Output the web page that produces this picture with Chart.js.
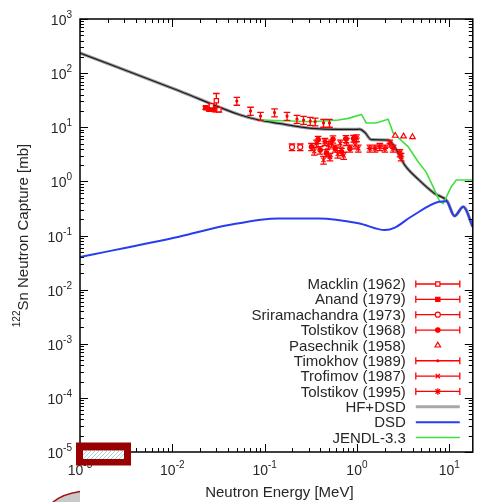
<!DOCTYPE html>
<html>
<head>
<meta charset="utf-8">
<script src="https://cdn.jsdelivr.net/npm/chart.js@4.4.1/dist/chart.umd.min.js"></script>
<style>
  html, body { margin: 0; padding: 0; background: #fff; }
  #wrap { width: 478px; height: 502px; }
</style>
</head>
<body>
<div id="wrap"><canvas id="plot"></canvas></div>
<script>
// calculated curves (energy in MeV, cross section in mb)
const hfEnergy = [0.001, 0.0118, 0.0526, 0.0866, 0.142, 0.325, 0.63, 0.95, 1.06, 1.22, 1.43, 2.2, 2.55, 3.3, 4.6, 6.9, 9.5, 11.4, 14.2, 18];
const hfXs     = [235, 47.3, 17.2, 13.6, 11.8, 9.55, 9.1, 9.1, 9.2, 8.0, 5.9, 5.8, 4.4, 2.0, 1.1, 0.6, 0.43, 0.23, 0.34, 0.145];

const dsdEnergy = [0.001, 0.0118, 0.041, 0.142, 0.384, 1.04, 2.01, 2.58, 3.86, 7.74, 9.3, 11.4, 14.2, 18];
const dsdXs     = [0.040, 0.095, 0.156, 0.207, 0.207, 0.169, 0.126, 0.14, 0.222, 0.42, 0.43, 0.229, 0.339, 0.145];

const jendlEnergy = [0.093, 0.32, 0.63, 0.81, 1.12, 1.26, 1.62, 2.18, 2.47, 3.58, 4.6, 5.6, 6.8, 7.9, 8.6, 10.5, 11.9, 18];
const jendlXs     = [13.6, 12.6, 13.6, 14.6, 17.3, 12.0, 12.0, 14.0, 7.8, 4.4, 2.3, 1.5, 0.75, 0.42, 0.39, 0.79, 1.06, 1.06];

// measurements
const macklinE   = [0.0265, 0.030, 0.032];
const macklinXs  = [25, 31, 21];
const macklinErr = [2, 11, 2];

const anandE   = [0.023, 0.025, 0.027, 0.029];
const anandXs  = [23, 21.5, 22, 21];
const anandErr = [1.5, 1.5, 1.5, 1.5];

const sriE   = [0.198, 0.243];
const sriXs  = [4.3, 4.3];
const sriErr = [0.6, 0.6];

const tol68E   = [0.322, 0.38, 0.40, 0.468, 0.55, 0.58, 0.68, 0.76, 0.84, 0.92];
const tol68Xs  = [4.36, 5.9, 3.79, 3.34, 6.0, 4.07, 3.53, 6.1, 4.07, 6.2];
const tol68Err = [0.65, 0.9, 0.6, 0.5, 0.9, 0.6, 0.55, 0.9, 0.6, 0.9];

const pasE  = [2.6, 3.2, 4.0];
const pasXs = [7.0, 6.8, 6.6];

const timE   = [0.050, 0.0703, 0.0902, 0.128, 0.175, 0.224, 0.264, 0.312, 0.353, 0.435, 0.504];
const timXs  = [30.5, 20.0, 16.1, 18.7, 16.1, 14.2, 13.6, 13.0, 12.7, 12.0, 12.0];
const timErr = [5, 3.4, 2.7, 3.2, 2.7, 2.4, 2.3, 2.2, 2.1, 2.0, 2.0];

const trofE   = [0.345, 0.365, 0.435, 0.49, 0.53, 0.62, 0.66, 0.72, 0.77, 0.955, 1.035];
const trofXs  = [3.6, 5.04, 2.48, 4.7, 5.04, 3.2, 5.04, 3.0, 5.4, 4.69, 4.07];
const trofErr = [0.55, 0.75, 0.4, 0.7, 0.75, 0.5, 0.75, 0.45, 0.8, 0.7, 0.6];

const tol95E   = [0.45, 0.51, 0.99, 1.38, 1.57, 1.77, 2.01, 2.27, 2.47, 2.92, 3.01];
const tol95Xs  = [5.4, 2.85, 6.3, 4.07, 4.07, 4.36, 4.07, 5.04, 4.07, 3.34, 2.85];
const tol95Err = [0.8, 0.45, 0.9, 0.6, 0.6, 0.65, 0.6, 0.75, 0.6, 0.5, 0.45];

// axis decades (labels are 10^exp)
const xTickExp = ['-3', '-2', '-1', '0', '1'];
const yTickExp = ['3', '2', '1', '0', '-1', '-2', '-3', '-4', '-5'];

const RED = '#ff0000';
const FONT = '"Liberation Sans", Arial, Helvetica, sans-serif';

function pts(e, s, err) {
    return e.map((v, i) => ({x: v, y: s[i], err: err ? err[i] : 0}));
}

function measured(label, e, s, err, style, radius, filled) {
    return {
        label: label,
        data: pts(e, s, err),
        showLine: false,
        pointStyle: style,
        pointRadius: radius,
        pointBorderWidth: 1.2,
        borderColor: RED,
        backgroundColor: filled ? RED : '#fff',
        errorBars: !!err,
        order: 0
    };
}

function curve(label, e, s, color, width, order, smooth) {
    return {
        label: label,
        data: pts(e, s),
        showLine: true,
        borderColor: color,
        borderWidth: width,
        pointRadius: 0,
        tension: 0,
        cubicInterpolationMode: smooth ? 'monotone' : 'default',
        order: order
    };
}

// vertical error bars, drawn just before each dataset's markers
const errorBars = {
    id: 'errorBars',
    beforeDatasetDraw(chart, args) {
        const ds = chart.data.datasets[args.index];
        if (!ds.errorBars) return;
        const ctx = chart.ctx, y = chart.scales.y;
        const a = chart.chartArea;
        ctx.save();
        ctx.beginPath();
        ctx.rect(a.left, a.top, a.right - a.left, a.bottom - a.top);
        ctx.clip();
        ctx.strokeStyle = RED;
        ctx.lineWidth = 1.3;
        ctx.beginPath();
        args.meta.data.forEach((p, i) => {
            const d = ds.data[i];
            const y0 = y.getPixelForValue(d.y - d.err);
            const y1 = y.getPixelForValue(d.y + d.err);
            ctx.moveTo(p.x, y0); ctx.lineTo(p.x, y1);
            ctx.moveTo(p.x - 3.3, y0); ctx.lineTo(p.x + 3.3, y0);
            ctx.moveTo(p.x - 3.3, y1); ctx.lineTo(p.x + 3.3, y1);
        });
        ctx.stroke();
        ctx.restore();
    }
};

function drawPow(ctx, exp, x, y, align) {
    ctx.font = '14px ' + FONT;
    const wb = ctx.measureText('10').width;
    ctx.font = '10px ' + FONT;
    const we = ctx.measureText(exp).width;
    const w = wb + we;
    const start = align === 'right' ? x - w : x - w / 2;
    ctx.textAlign = 'left';
    ctx.textBaseline = 'alphabetic';
    ctx.font = '14px ' + FONT;
    ctx.fillText('10', start, y);
    ctx.font = '10px ' + FONT;
    ctx.fillText(exp, start + wb, y - 7);
}

// gnuplot style border, inward ticks, labels
const frame = {
    id: 'frame',
    afterDatasetsDraw(chart) {
        const ctx = chart.ctx, a = chart.chartArea;
        const x = chart.scales.x, y = chart.scales.y;
        const steps = [1, 2, 3, 4, 5, 6, 7, 8, 9];
        ctx.save();
        ctx.strokeStyle = '#000';
        ctx.lineWidth = 1;
        ctx.beginPath();
        xTickExp.forEach(ex => {
            steps.forEach(k => {
                const v = k * Math.pow(10, +ex);
                if (v > x.max * 1.0001) return;
                const px = Math.round(x.getPixelForValue(v)) + 0.5;
                const len = k === 1 ? 8 : 4;
                ctx.moveTo(px, a.bottom); ctx.lineTo(px, a.bottom - len);
                ctx.moveTo(px, a.top); ctx.lineTo(px, a.top + len);
            });
        });
        yTickExp.forEach(ex => {
            steps.forEach(k => {
                const v = k * Math.pow(10, +ex);
                if (v > y.max * 1.0001) return;
                const py = Math.round(y.getPixelForValue(v)) + 0.5;
                const len = k === 1 ? 8 : 4;
                ctx.moveTo(a.left, py); ctx.lineTo(a.left + len, py);
                ctx.moveTo(a.right, py); ctx.lineTo(a.right - len, py);
            });
        });
        ctx.stroke();
        ctx.lineWidth = 1.5;
        ctx.strokeRect(a.left, a.top, a.right - a.left, a.bottom - a.top);

        ctx.fillStyle = '#262626';
        xTickExp.forEach(ex => drawPow(ctx, ex, x.getPixelForValue(Math.pow(10, +ex)), a.bottom + 23, 'center'));
        yTickExp.forEach(ex => drawPow(ctx, ex, a.left - 8, y.getPixelForValue(Math.pow(10, +ex)) + 6, 'right'));

        // axis titles
        ctx.font = '15px ' + FONT;
        ctx.textAlign = 'center';
        ctx.textBaseline = 'alphabetic';
        ctx.fillText('Neutron Energy [MeV]', (a.left + a.right) / 2 + 3, 497);

        ctx.save();
        ctx.translate(28, (a.top + a.bottom) / 2);
        ctx.rotate(-Math.PI / 2);
        ctx.font = '10px ' + FONT;
        const wIso = ctx.measureText('122').width;
        ctx.font = '15px ' + FONT;
        const main = 'Sn Neutron Capture [mb]';
        const wMain = ctx.measureText(main).width;
        const s = -(wIso + wMain) / 2;
        ctx.textAlign = 'left';
        ctx.font = '10px ' + FONT;
        ctx.fillText('122', s, -8);
        ctx.font = '15px ' + FONT;
        ctx.fillText(main, s + wIso, 0);
        ctx.restore();
        ctx.restore();
    }
};

// key in the lower right corner
const key = {
    id: 'key',
    afterDraw(chart) {
        const ctx = chart.ctx, a = chart.chartArea;
        const textRight = a.right - 67;
        const x0 = a.right - 57, x1 = a.right - 13, xm = (x0 + x1) / 2;
        let row = a.bottom - 168;
        ctx.save();
        chart.data.datasets.forEach(ds => {
            if (!ds.label) return;
            ctx.font = '15px ' + FONT;
            ctx.textAlign = 'right';
            ctx.textBaseline = 'middle';
            ctx.fillStyle = '#262626';
            ctx.fillText(ds.label, textRight, row + 1);
            if (ds.showLine) {
                ctx.strokeStyle = ds.keyColor || ds.borderColor;
                ctx.lineWidth = ds.keyWidth || ds.borderWidth;
                ctx.beginPath();
                ctx.moveTo(x0, row); ctx.lineTo(x1, row);
                ctx.stroke();
            } else {
                ctx.strokeStyle = RED;
                ctx.lineWidth = 1.3;
                if (ds.errorBars) {
                    ctx.beginPath();
                    ctx.moveTo(x0, row); ctx.lineTo(x1, row);
                    ctx.moveTo(x0, row - 3.5); ctx.lineTo(x0, row + 3.5);
                    ctx.moveTo(x1, row - 3.5); ctx.lineTo(x1, row + 3.5);
                    ctx.stroke();
                }
                ctx.fillStyle = ds.backgroundColor;
                ctx.lineWidth = ds.pointBorderWidth;
                Chart.helpers.drawPoint(ctx, {
                    pointStyle: ds.pointStyle, radius: ds.pointRadius,
                    rotation: 0, borderWidth: ds.pointBorderWidth
                }, xm, row);
            }
            row += 15.35;
        });
        ctx.restore();
    }
};

// marks that sit on top of the figure in the lower left corner
const overlay = {
    id: 'overlay',
    afterDraw(chart) {
        const ctx = chart.ctx;
        ctx.save();
        ctx.fillStyle = '#990000';
        ctx.fillRect(76, 442.5, 55, 23);
        ctx.fillStyle = '#fff';
        ctx.fillRect(83, 450.5, 41, 8.5);
        ctx.beginPath();
        ctx.rect(83, 450.5, 41, 8.5);
        ctx.clip();
        ctx.strokeStyle = '#a9d6dc';
        ctx.lineWidth = 1;
        ctx.beginPath();
        for (let i = 70; i < 140; i += 4) {
            ctx.moveTo(i, 460); ctx.lineTo(i + 10, 450);
        }
        ctx.stroke();
        ctx.restore();

        ctx.save();
        ctx.beginPath();
        ctx.moveTo(52, 503);
        ctx.quadraticCurveTo(62, 494, 80, 491.5);
        ctx.lineTo(80, 503);
        ctx.closePath();
        ctx.fillStyle = '#c9c9c9';
        ctx.fill();
        ctx.beginPath();
        ctx.moveTo(52, 503);
        ctx.quadraticCurveTo(62, 494, 80, 491.5);
        ctx.strokeStyle = '#a01010';
        ctx.lineWidth = 1.6;
        ctx.stroke();
        ctx.restore();
    }
};

const datasets = [
    measured('Macklin (1962)', macklinE, macklinXs, macklinErr, 'rect', 3, false),
    measured('Anand (1979)', anandE, anandXs, anandErr, 'rect', 3, true),
    measured('Sriramachandra (1973)', sriE, sriXs, sriErr, 'circle', 2.5, false),
    measured('Tolstikov (1968)', tol68E, tol68Xs, tol68Err, 'circle', 2.2, true),
    measured('Pasechnik (1958)', pasE, pasXs, null, 'triangle', 3.2, false),
    measured('Timokhov (1989)', timE, timXs, timErr, 'circle', 1, true),
    measured('Trofimov (1987)', trofE, trofXs, trofErr, 'crossRot', 3, false),
    measured('Tolstikov (1995)', tol95E, tol95Xs, tol95Err, 'star', 3.2, false),
    Object.assign(curve('HF+DSD', hfEnergy, hfXs, '#9a9a9a', 3.2, 4, true), {keyColor: '#a8a8a8', keyWidth: 3}),
    curve('DSD', dsdEnergy, dsdXs, '#2a3cf0', 2, 1, true),
    curve('JENDL-3.3', jendlEnergy, jendlXs, '#3fe03f', 1.6, 2, false),
    curve('', hfEnergy, hfXs, '#1a1a1a', 1.2, 3, true)
];

new Chart(document.getElementById('plot'), {
    type: 'scatter',
    data: {datasets: datasets},
    plugins: [errorBars, frame, key, overlay],
    options: {
        responsive: true,
        maintainAspectRatio: false,
        animation: false,
        layout: {padding: {top: 19, right: 4, left: 0, bottom: 0}},
        plugins: {legend: {display: false}, tooltip: {enabled: false}},
        scales: {
            x: {
                type: 'logarithmic', min: 0.001, max: 18,
                ticks: {display: false},
                grid: {display: false},
                border: {display: false},
                afterFit(s) { s.height = 50; }
            },
            y: {
                type: 'logarithmic', min: 1e-5, max: 1e3,
                ticks: {display: false},
                grid: {display: false},
                border: {display: false},
                afterFit(s) { s.width = 80; }
            }
        }
    }
});
</script>
</body>
</html>
